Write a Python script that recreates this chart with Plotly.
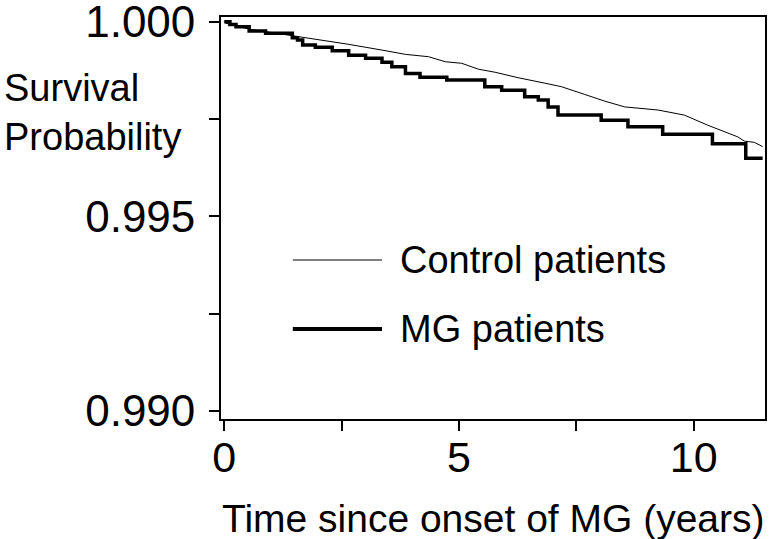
import plotly.graph_objects as go

# Control patients (thin, near-continuous Kaplan-Meier curve)
ctrl_t = [0.0, 0.03, 0.52, 1.45, 1.94, 2.64, 3.36, 3.86, 4.35, 4.71, 5.06, 5.41, 5.77,
          6.26, 6.83, 7.18, 7.68, 8.10, 8.53, 9.24, 9.80, 10.30, 10.94, 11.08, 11.29, 11.47]
ctrl_s = [1.0, 0.99996, 0.99981, 0.99964, 0.99956, 0.99942, 0.99927, 0.99916, 0.99910,
          0.99897, 0.99893, 0.99878, 0.99870, 0.99856, 0.99842, 0.99833, 0.99813, 0.99796,
          0.99781, 0.99773, 0.99760, 0.99734, 0.99704, 0.99693, 0.99690, 0.99679]

# MG patients (thick step curve)
mg_t = [0.0, 0.12, 0.25, 0.53, 0.88, 1.45, 1.56, 1.67, 1.94, 2.30, 2.65, 3.01, 3.36, 3.57,
        3.86, 4.17, 4.74, 5.55, 5.91, 6.40, 6.69, 6.90, 7.11, 8.03, 8.60, 9.34, 10.40,
        11.11, 11.47]
mg_s = [1.0, 0.99993, 0.99987, 0.99976, 0.99970, 0.99959, 0.99953, 0.99940, 0.99934,
        0.99925, 0.99914, 0.99906, 0.99896, 0.99884, 0.99867, 0.99857, 0.99850, 0.99833,
        0.99824, 0.99807, 0.99799, 0.99781, 0.99760, 0.99747, 0.99730, 0.99711, 0.99686,
        0.99649, 0.99649]

x_tickvals = [0, 2.5, 5, 7.5, 10]
x_ticktext = ["0", "", "5", "", "10"]
y_tickvals = [0.990, 0.9925, 0.995, 0.9975, 1.000]
y_ticktext = ["0.990", "", "0.995", "", "1.000"]

series_names = ["Control patients", "MG patients"]

FONT = "Liberation Sans, Arial, Helvetica, sans-serif"

fig = go.Figure()
fig.add_trace(go.Scatter(x=ctrl_t, y=ctrl_s, mode="lines", name=series_names[0],
                         line=dict(color="black", width=1.0, shape="linear"),
                         showlegend=False, hoverinfo="skip"))
fig.add_trace(go.Scatter(x=mg_t, y=mg_s, mode="lines", name=series_names[1],
                         line=dict(color="black", width=3.5, shape="hv"),
                         showlegend=False, hoverinfo="skip"))

# legend keys drawn as shapes + text, in paper coordinates
fig.add_shape(type="line", xref="paper", yref="paper", x0=0.132, x1=0.296, y0=0.3955, y1=0.3955,
              line=dict(color="black", width=1.2))
fig.add_shape(type="line", xref="paper", yref="paper", x0=0.132, x1=0.296, y0=0.224, y1=0.224,
              line=dict(color="black", width=4))
fig.add_annotation(text=series_names[0], xref="paper", yref="paper", x=0.325, y=0.3955,
                   xanchor="left", yanchor="middle", showarrow=False,
                   font=dict(family=FONT, size=38, color="black"))
fig.add_annotation(text=series_names[1], xref="paper", yref="paper", x=0.325, y=0.224,
                   xanchor="left", yanchor="middle", showarrow=False,
                   font=dict(family=FONT, size=38, color="black"))

# y axis title (horizontal, two lines)
fig.add_annotation(text="Survival<br>Probability", xref="paper", yref="paper", x=-0.402, y=0.762,
                   xanchor="left", yanchor="middle", align="left", showarrow=False,
                   font=dict(family=FONT, size=38, color="black"))

# x axis title
fig.add_annotation(text="Time since onset of MG (years)", xref="paper", yref="paper",
                   x=0.5, y=-0.247, xanchor="center", yanchor="middle", showarrow=False,
                   font=dict(family=FONT, size=39, color="black"))

fig.update_layout(
    width=776, height=539,
    margin=dict(l=221, r=11, t=17, b=120, autoexpand=False),
    paper_bgcolor="white", plot_bgcolor="white",
    font=dict(family=FONT, color="black"),
    hovermode=False,
)
fig.update_xaxes(range=[-0.07, 11.52], tickvals=x_tickvals, ticktext=x_ticktext,
                 ticks="outside", ticklen=10, tickwidth=1.5, tickcolor="black",
                 showline=True, linecolor="black", linewidth=1.8, mirror=True,
                 showgrid=False, zeroline=False, automargin=False, ticklabelstandoff=-11,
                 tickfont=dict(family=FONT, size=43))
fig.update_yaxes(range=[0.98979, 1.00012], tickvals=y_tickvals, ticktext=y_ticktext,
                 ticks="outside", ticklen=10, tickwidth=1.5, tickcolor="black",
                 showline=True, linecolor="black", linewidth=1.8, mirror=True,
                 showgrid=False, zeroline=False, ticklabelstandoff=5, automargin=False,
                 ticklabeloverflow="allow",
                 tickfont=dict(family=FONT, size=44))

fig.write_html("out.html", config={"displayModeBar": False},
               post_script="document.body.style.margin='0';document.body.style.overflow='hidden';")
